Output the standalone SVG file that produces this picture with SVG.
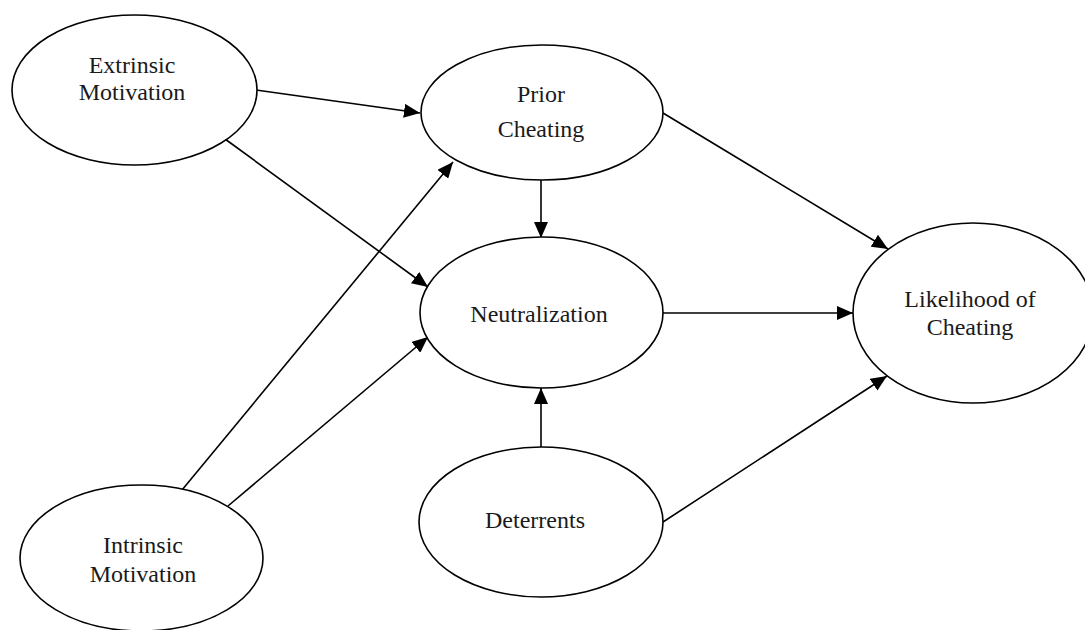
<svg xmlns="http://www.w3.org/2000/svg" width="1085" height="630" viewBox="0 0 1085 630">
<style>
.node ellipse{fill:#fff;stroke:#000;stroke-width:1.6}
.node text{font-family:"Liberation Serif","Times New Roman",serif;font-size:24px;fill:#1a1a1a;text-anchor:middle}
.edges line{stroke:#000;stroke-width:1.6;marker-end:url(#arr)}
</style>
<defs>
<marker id="arr" markerUnits="userSpaceOnUse" markerWidth="17" markerHeight="14" refX="16" refY="7" orient="auto">
<path d="M0,0 L16,7 L0,14 z" fill="#000"/>
</marker>
</defs>
<rect width="1085" height="630" fill="#fff"/>
<g id="edges" class="edges">
<line x1="256" y1="90" x2="420" y2="113"/>
<line x1="225" y1="139" x2="428" y2="287"/>
<line x1="182" y1="490" x2="453" y2="162"/>
<line x1="228" y1="506" x2="428" y2="337"/>
<line x1="541" y1="180" x2="541" y2="238"/>
<line x1="663" y1="113" x2="888" y2="249"/>
<line x1="663" y1="313" x2="853" y2="313"/>
<line x1="663" y1="522" x2="887" y2="376"/>
<line x1="541" y1="447" x2="541" y2="388"/>
</g>
<g id="extrinsic" class="node">
<ellipse cx="134.5" cy="90" rx="122.5" ry="75"/>
<text x="132" y="73">Extrinsic</text>
<text x="132" y="100">Motivation</text>
</g>
<g id="prior" class="node">
<ellipse cx="542" cy="112.5" rx="121" ry="67.5"/>
<text x="541" y="102">Prior</text>
<text x="541" y="137">Cheating</text>
</g>
<g id="neutralization" class="node">
<ellipse cx="541.5" cy="312.5" rx="121.5" ry="75.5"/>
<text x="539" y="322">Neutralization</text>
</g>
<g id="likelihood" class="node">
<ellipse cx="973" cy="313" rx="120" ry="90"/>
<text x="970" y="307">Likelihood of</text>
<text x="970" y="335">Cheating</text>
</g>
<g id="deterrents" class="node">
<ellipse cx="541" cy="522" rx="122" ry="75"/>
<text x="535" y="528">Deterrents</text>
</g>
<g id="intrinsic" class="node">
<ellipse cx="141.5" cy="558" rx="121.5" ry="73"/>
<text x="143" y="553">Intrinsic</text>
<text x="143" y="582">Motivation</text>
</g>
</svg>
